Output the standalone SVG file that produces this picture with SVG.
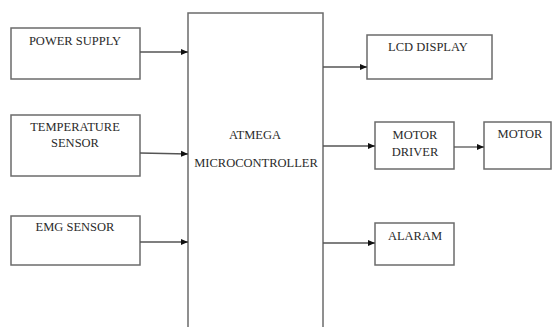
<svg xmlns="http://www.w3.org/2000/svg" width="553" height="327" viewBox="0 0 553 327">
<style>
.box{fill:#fff;stroke:#6b6b6b;stroke-width:1.5}
.t{font-size:12.5px;fill:#2a2a2a;text-anchor:middle}
.c{stroke:#555;stroke-width:1.3;fill:none}
</style>
<defs>
<marker id="ah" markerWidth="8" markerHeight="8" refX="7" refY="4" orient="auto" markerUnits="userSpaceOnUse">
<path d="M0,1 L7,4 L0,7 z" fill="#111"/>
</marker>
</defs>
<rect width="553" height="327" fill="#fff"/>
<g font-family="Times New Roman, Liberation Serif, DejaVu Serif, serif">
<g id="power"><rect class="box" x="11" y="28" width="129" height="51"/><text class="t" x="75" y="45">POWER SUPPLY</text></g>
<g id="temp"><rect class="box" x="11" y="115" width="129" height="61"/><text class="t" x="75" y="131">TEMPERATURE</text><text class="t" x="75" y="147">SENSOR</text></g>
<g id="emg"><rect class="box" x="11" y="216" width="129" height="49"/><text class="t" x="75" y="231">EMG SENSOR</text></g>
<g id="mcu"><rect class="box" x="188" y="13" width="135" height="320"/><text class="t" x="255" y="139">ATMEGA</text><text class="t" x="256" y="167">MICROCONTROLLER</text></g>
<g id="lcd"><rect class="box" x="367" y="35" width="125" height="44"/><text class="t" x="428" y="51">LCD DISPLAY</text></g>
<g id="driver"><rect class="box" x="375" y="122" width="79" height="47"/><text class="t" x="415" y="139">MOTOR</text><text class="t" x="415" y="156">DRIVER</text></g>
<g id="motor"><rect class="box" x="484" y="122" width="67" height="47"/><text class="t" x="520" y="138">MOTOR</text></g>
<g id="alarm"><rect class="box" x="375" y="223" width="79" height="42"/><text class="t" x="415" y="240">ALARAM</text></g>
</g>
<g id="connectors">
<line class="c" x1="140" y1="52" x2="188" y2="52" marker-end="url(#ah)"/>
<line class="c" x1="140" y1="153" x2="188" y2="154" marker-end="url(#ah)"/>
<line class="c" x1="140" y1="242" x2="188" y2="242" marker-end="url(#ah)"/>
<line class="c" x1="323" y1="67" x2="367" y2="67" marker-end="url(#ah)"/>
<line class="c" x1="323" y1="146" x2="375" y2="146" marker-end="url(#ah)"/>
<line class="c" x1="454" y1="147" x2="484" y2="147" marker-end="url(#ah)"/>
<line class="c" x1="323" y1="243" x2="375" y2="243" marker-end="url(#ah)"/>
</g>
</svg>
